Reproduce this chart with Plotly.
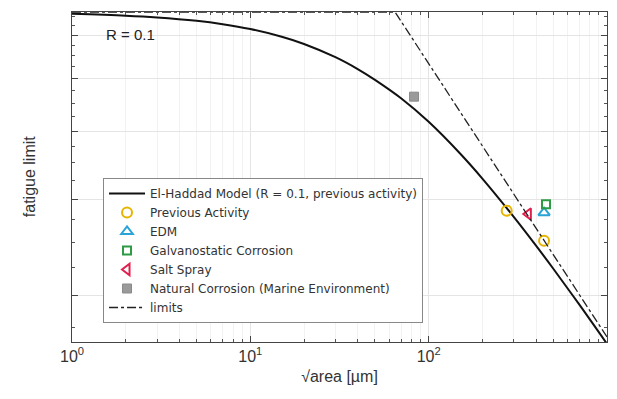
import plotly.graph_objects as go

# El-Haddad model curve
model_x = [1, 2, 3, 5, 7, 10, 15, 20, 30, 40, 50, 70, 100, 150, 200, 300, 400, 500, 700, 1000]
model_y = [656.0, 651.0, 646.2, 636.9, 627.9, 615.2, 595.6, 577.8, 546.5, 519.8, 496.6, 459.5, 416.0,
           364.0, 327.5, 278.6, 246.8, 223.9, 192.4, 163.1]

# limits (plateau + slope line)
limits_x = [1, 64.8, 1000]
limits_y = [661, 661, 167.9]

prev_x = [273.9, 443.6]
prev_y = [286.0, 252.0]
edm_x = [443.6]
edm_y = [283.6]
galv_x = [455.0]
galv_y = [293.8]
salt_x = [362.2]
salt_y = [282.0]
nat_x = [82.8]
nat_y = [462.6]

x_tickvals = [1, 10, 100, 1000]
x_ticktext = ["10<sup>0</sup>", "10<sup>1</sup>", "10<sup>2</sup>", "10<sup>3</sup>"]
x_minor = [m * d for d in (1, 10, 100) for m in range(2, 10)]
y_tickvals = [200, 300, 400, 500, 600]
y_minor = [175, 225, 250, 275, 325, 350, 375, 425, 450, 475, 525, 550, 575, 625, 650]

FONT = "Liberation Sans, Arial, sans-serif"

fig = go.Figure()
fig.add_trace(go.Scatter(x=model_x, y=model_y, mode="lines",
                         line=dict(color="#111", width=2, shape="spline", smoothing=1.0),
                         name="El-Haddad Model (R = 0.1, previous activity)"))
fig.add_trace(go.Scatter(x=prev_x, y=prev_y, mode="markers", name="Previous Activity",
                         marker=dict(symbol="circle-open", size=10, color="#E8B400", line=dict(width=2))))
fig.add_trace(go.Scatter(x=edm_x, y=edm_y, mode="markers", name="EDM",
                         marker=dict(symbol="triangle-up-open", size=10, color="#2AA3D6", line=dict(width=2))))
fig.add_trace(go.Scatter(x=galv_x, y=galv_y, mode="markers", name="Galvanostatic Corrosion",
                         marker=dict(symbol="square-open", size=8, color="#2E9A44", line=dict(width=2))))
fig.add_trace(go.Scatter(x=salt_x, y=salt_y, mode="markers", name="Salt Spray",
                         marker=dict(symbol="triangle-left-open", size=10, color="#E0204E", line=dict(width=2))))
fig.add_trace(go.Scatter(x=nat_x, y=nat_y, mode="markers", name="Natural Corrosion (Marine Environment)",
                         marker=dict(symbol="square", size=9, color="#9A9A9A", line=dict(width=1, color="#8A8A8A"))))
fig.add_trace(go.Scatter(x=limits_x, y=limits_y, mode="lines", name="limits",
                         line=dict(color="#222", width=1.3, dash="dashdot")))

fig.add_annotation(x=0.06, y=0.932, xref="paper", yref="paper", text="R = 0.1", showarrow=False,
                   xanchor="left", yanchor="middle", font=dict(size=15, color="#222", family=FONT))
fig.add_annotation(x=-0.08, y=0.5, xref="paper", yref="paper", text="fatigue limit", showarrow=False,
                   textangle=-90, xanchor="center", yanchor="middle", font=dict(size=16, color="#333", family=FONT))

# page body has an 8px margin, so the figure is offset by 8px right and down
fig.update_layout(
    width=609, height=391,
    margin=dict(l=64, r=10, t=4, b=57, autoexpand=False),
    paper_bgcolor="white", plot_bgcolor="white",
    font=dict(family=FONT, color="#333"),
    showlegend=True,
    legend=dict(x=0.058, y=0.497, xanchor="left", yanchor="top", bgcolor="white",
                bordercolor="#888", borderwidth=1,
                font=dict(size=12, color="#333", family="DejaVu Sans, sans-serif"),
                tracegroupgap=0, itemwidth=36),
    xaxis=dict(type="log", range=[0, 3], tickvals=x_tickvals, ticktext=x_ticktext, automargin=False,
               ticks="inside", ticklen=6, tickcolor="#444", showline=True, linecolor="#444", mirror="ticks",
               showgrid=True, gridcolor="#E4E4E4", zeroline=False,
               tickfont=dict(size=16, color="#333"),
               minor=dict(tickmode="array", tickvals=x_minor, ticks="inside", ticklen=3, tickcolor="#555",
                          showgrid=True, gridcolor="#F2F2F2"),
               title=dict(text="√area [µm]", font=dict(size=16, color="#333"), standoff=6)),
    yaxis=dict(type="log", range=[2.21587, 2.82027], tickvals=y_tickvals, ticktext=[""] * 5, automargin=False,
               ticks="inside", ticklen=6, tickcolor="#444", showline=True, linecolor="#444", mirror="ticks",
               showgrid=True, gridcolor="#E4E4E4", zeroline=False,
               minor=dict(tickmode="array", tickvals=y_minor, ticks="inside", ticklen=3, tickcolor="#555",
                          showgrid=False)),
)

fig.write_html("out.html")
